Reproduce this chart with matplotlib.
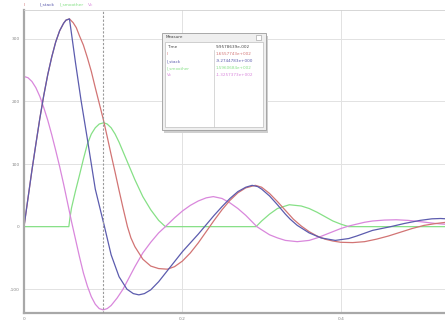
import matplotlib
matplotlib.use("Agg")
import matplotlib.pyplot as plt
from matplotlib.patches import Rectangle

# ---- data (time in s) ----
t_stack = [0, 0.005, 0.01, 0.015, 0.02, 0.025, 0.03, 0.035, 0.04, 0.045, 0.05, 0.053,
           0.0574, 0.065, 0.072, 0.08, 0.09, 0.1016, 0.11, 0.12, 0.13, 0.138, 0.145,
           0.152, 0.16, 0.17, 0.18, 0.19, 0.2, 0.21, 0.22, 0.23, 0.24, 0.25, 0.26,
           0.27, 0.28, 0.288, 0.295, 0.30, 0.31, 0.32, 0.33, 0.336, 0.345, 0.36,
           0.375, 0.393, 0.41, 0.42, 0.44, 0.463, 0.48, 0.50, 0.515, 0.526, 0.54]
i_stack = [0, 45, 90, 132, 173, 210, 243, 271, 295, 313, 325, 330,
           332, 262, 202, 140, 60, 0, -45, -80, -100, -107, -109,
           -107, -101, -88, -72, -56, -40, -26, -12, 3, 18, 32, 45,
           56, 63, 66, 64, 60, 49, 35, 20, 12, 2, -10,
           -18, -22, -19, -15, -6, 0, 5, 10, 12.5, 13, 12]

t_i = [0, 0.005, 0.01, 0.015, 0.02, 0.025, 0.03, 0.035, 0.04, 0.045, 0.05, 0.053,
       0.0574, 0.062, 0.066, 0.07, 0.075, 0.08, 0.085, 0.09, 0.095, 0.10, 0.105,
       0.11, 0.115, 0.12, 0.125, 0.1306, 0.135, 0.14, 0.15, 0.16, 0.17, 0.181,
       0.19, 0.2, 0.21, 0.22, 0.23, 0.24, 0.25, 0.26, 0.27, 0.28, 0.292, 0.30,
       0.31, 0.32, 0.33, 0.34, 0.35, 0.36, 0.37, 0.38, 0.39, 0.40, 0.415, 0.43,
       0.445, 0.46, 0.475, 0.49, 0.505, 0.52, 0.54]
i_main = [0, 45, 90, 132, 173, 210, 243, 271, 295, 313, 325, 330,
          332, 326, 318, 305, 290, 270, 248, 222, 197, 172, 144,
          115, 87, 58, 30, 0, -18, -32, -52, -63, -67, -68,
          -64, -55, -42, -26, -8, 10, 27, 42, 54, 62, 66, 63,
          53, 40, 26, 12, 1, -8, -15, -20, -23, -25, -25.5, -24,
          -20, -15, -9, -3, 2, 5, 8]

t_smooth = [0, 0.0566, 0.058, 0.06, 0.065, 0.07, 0.075, 0.08, 0.085, 0.09, 0.095,
            0.1007, 0.105, 0.11, 0.115, 0.12, 0.13, 0.14, 0.15, 0.16, 0.17, 0.1785,
            0.293, 0.30, 0.31, 0.32, 0.335, 0.35, 0.36, 0.37, 0.38, 0.39, 0.40, 0.41, 0.56]
i_smooth = [0, 0, 14, 30, 57, 82, 108, 132, 148, 158, 164,
            166, 164, 158, 148, 135, 105, 75, 48, 27, 10, 0,
            0, 9, 20, 29, 35, 33, 29, 23, 16, 9, 4, 0, 0]

t_vc = [0, 0.005, 0.01, 0.015, 0.02, 0.025, 0.03, 0.035, 0.04, 0.045, 0.05, 0.055,
        0.06, 0.065, 0.07, 0.075, 0.08, 0.085, 0.09, 0.095, 0.1, 0.105, 0.11,
        0.1176, 0.125, 0.13, 0.14, 0.15, 0.16, 0.17, 0.1785, 0.19, 0.2, 0.21, 0.22,
        0.23, 0.239, 0.25, 0.26, 0.27, 0.28, 0.287, 0.294, 0.30, 0.31, 0.32, 0.33,
        0.345, 0.36, 0.37, 0.38, 0.39, 0.40, 0.41, 0.42, 0.43, 0.44, 0.455, 0.47,
        0.485, 0.50, 0.52, 0.54]
vc = [240, 238, 232, 222, 208, 190, 170, 147, 122, 96, 68, 38,
      8, -20, -48, -74, -95, -112, -124, -131, -133, -131, -126,
      -114, -100, -88, -64, -42, -25, -10, 0, 14, 25, 34, 41,
      46, 48, 45, 38, 29, 18, 9, 0, -5, -13, -18, -22,
      -24, -22, -18, -13, -8, -3, 1, 4, 7, 9, 10.5, 11,
      10, 8, 5, 3]

names = ["I", "I_stack", "I_smoother", "Vc"]
colors = ["#d27474", "#5c5cae", "#86e086", "#d987dc"]
cursor_t = 0.0996
measure_vals = ["1.6557743e+002", "-9.2744783e+000", "1.5960684e+002", "-1.3257373e+002"]

W, H = 445, 322
fig = plt.figure(figsize=(W / 100, H / 100), dpi=100)
fig.patch.set_facecolor("white")

def px(x, y, w, h):
    return [x / W, 1 - (y + h) / H, w / W, h / H]

ax = fig.add_axes(px(24, 9.5, 440, 303.5))
ax.set_xlim(0, 0.5555)
ax.set_ylim(-138, 347)

for y in [-100, 100, 200, 300]:
    ax.axhline(y, color="#e2e2e2", lw=0.7, zorder=0)
for x in [0.2, 0.4]:
    ax.axvline(x, color="#e2e2e2", lw=0.7, zorder=0)

ax.plot(t_smooth, i_smooth, color=colors[2], lw=0.9)
ax.plot(t_vc, vc, color=colors[3], lw=0.9)
ax.plot(t_i, i_main, color=colors[0], lw=0.9)
ax.plot(t_stack, i_stack, color=colors[1], lw=0.9)

ax.axvline(cursor_t, color="#9a9a9a", lw=0.8, ls=(0, (2, 1.5)), zorder=3)

ax.set_xticks([0, 0.2, 0.4])
ax.set_xticklabels(["0", "0.2", "0.4"])
ax.set_yticks([-100, 0, 100, 200, 300])
ax.set_yticklabels(["-100", "0", "100", "200", "300"])
ax.tick_params(labelsize=3.2, colors="#888888", length=0, pad=3)
for s in ["top", "right"]:
    ax.spines[s].set_color("#d0d0d0")
    ax.spines[s].set_linewidth(0.6)
for s in ["left", "bottom"]:
    ax.spines[s].set_color("#a8a8a8")
    ax.spines[s].set_linewidth(1.6)

# legend names along the top
leg_x = [24, 40, 60, 88]
for nm, c, x in zip(names, colors, leg_x):
    fig.text(x / W, 1 - 4.5 / H, nm, color=c, fontsize=3.2, va="center")

# measure box
bx, by, bw, bh = 162, 33, 104, 97
fig.patches.append(Rectangle((bx / W + 0.004, 1 - (by + bh) / H - 0.008), bw / W, bh / H,
                             transform=fig.transFigure, facecolor="#cfcfcf", edgecolor="none",
                             zorder=5))
fig.patches.append(Rectangle((bx / W, 1 - (by + bh) / H), bw / W, bh / H,
                             transform=fig.transFigure, facecolor="#efefef",
                             edgecolor="#9c9c9c", lw=0.6, zorder=6))
fig.patches.append(Rectangle((165 / W, 1 - 127 / H), 98 / W, 85 / H,
                             transform=fig.transFigure, facecolor="white",
                             edgecolor="#b0b0b0", lw=0.4, zorder=7))
fig.patches.append(Rectangle((256 / W, 1 - 40 / H), 5 / W, 5 / H,
                             transform=fig.transFigure, facecolor="white",
                             edgecolor="#999999", lw=0.4, zorder=7))
fig.lines.append(plt.Line2D([214 / W, 214 / W], [1 - 50 / H, 1 - 127 / H],
                            transform=fig.transFigure, color="#c8c8c8", lw=0.5, zorder=8))
fig.text(166 / W, 1 - 37 / H, "Measure", fontsize=3, color="#444444", va="center", zorder=9)
fig.text(167 / W, 1 - 47 / H, "Time", fontsize=3, color="#444444", va="center", zorder=9)
fig.text(216 / W, 1 - 47 / H, "9.9578639e-002", fontsize=3, color="#444444", va="center", zorder=9)
for k, (nm, c, v) in enumerate(zip(names, colors, measure_vals)):
    y = 54 + k * 7
    fig.text(167 / W, 1 - y / H, nm, fontsize=3, color=c, va="center", zorder=9)
    fig.text(216 / W, 1 - y / H, v, fontsize=3, color=c, va="center", zorder=9)

fig.savefig("out.png", dpi=100)
